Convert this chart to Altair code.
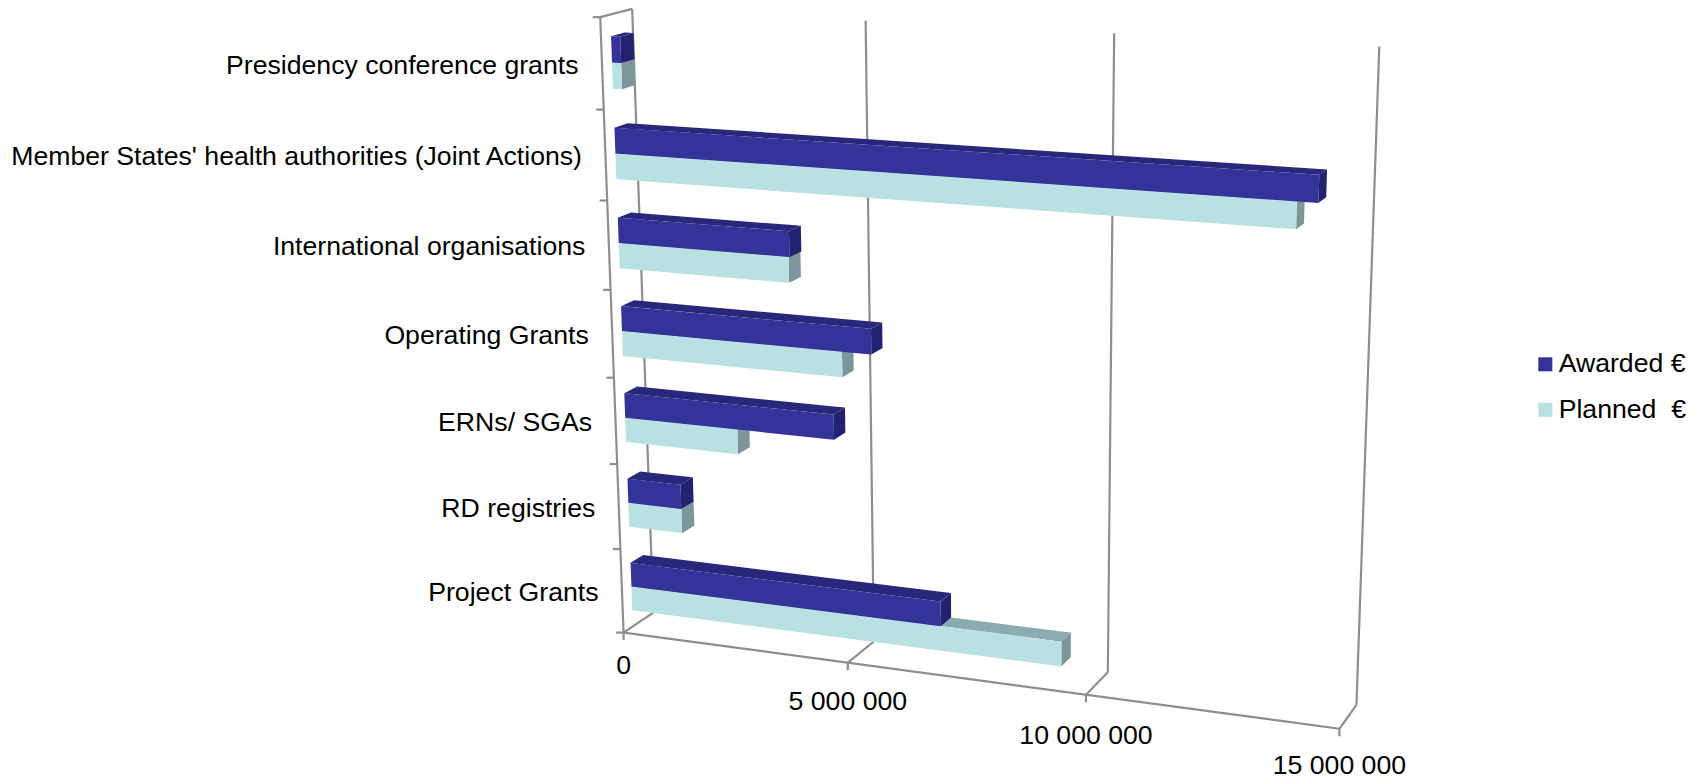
import altair as alt
import numpy as np
import pandas as pd

# ---- chart values ----
categories = ["Presidency conference grants", "Member States' health authorities (Joint Actions)",
              "International organisations", "Operating Grants", "ERNs/ SGAs", "RD registries", "Project Grants"]
awarded = [200000, 14200000, 3720000, 5420000, 4600000, 1200000, 6830000]
planned = [200000, 13800000, 3700000, 4800000, 2500000, 1200000, 9350000]
series_names = ["Awarded €", "Planned  €"]
x_ticks = [0, 5000000, 10000000, 15000000]
x_tick_labels = ["0", "5 000 000", "10 000 000", "15 000 000"]

# ---- perspective camera: box corners (value, row, depth) seen at page pixels ----
box_points = [(0, 0, 0), (0, 1, 0), (0, 2, 0), (0, 4, 0), (0, 5, 0), (0, 6, 0), (0, 7, 0),
              (5, 7, 0), (10, 7, 0), (15, 7, 0),
              (0, 7, 1), (5, 7, 1), (10, 7, 1), (15, 7, 1),
              (0, 0, 1), (5, 0, 1), (10, 0, 1), (15, 0, 1)]
page_points = [(601.7, 18), (603.3, 109.5), (605, 200.7), (614.3, 377.3), (617.3, 464), (619.5, 548.5), (624, 632.3),
               (848.3, 663.3), (1086.7, 695), (1339.3, 728.3),
               (653.3, 612.3), (874.3, 641.7), (1107.7, 672.7), (1355.7, 705),
               (632.3, 9.3), (865.7, 20), (1114.3, 32.7), (1379.3, 46.7)]

rows = []
for (a, b, c), (u, w) in zip(box_points, page_points):
    u, w = u / 1000, w / 1000
    X = [a / 15, b / 7, c, 1]
    rows.append(X + [0, 0, 0, 0] + [-u * q for q in X])
    rows.append([0, 0, 0, 0] + X + [-w * q for q in X])
P = np.linalg.svd(np.array(rows))[2][-1].reshape(3, 4)


def project(value, row, depth):
    h = P @ np.array([value / 15e6, row / 7, depth, 1.0])
    return float(h[0] / h[2] * 1000), float(h[1] / h[2] * 1000)


# ---- bar geometry inside a category band ----
BAR_TOP, BAR_MID, BAR_BOTTOM = 0.235, 0.52, 0.805
DEPTH_FRONT, DEPTH_BACK = 0.31, 0.73


def polygon_rows(points, face, **extra):
    """Express a convex polygon as upper / lower envelopes for an area mark."""
    out = []
    xs = sorted({round(p[0], 3) for p in points})
    n = len(points)
    for x in xs:
        ys = []
        for i in range(n):
            (x1, y1), (x2, y2) = points[i], points[(i + 1) % n]
            lo, hi = min(x1, x2), max(x1, x2)
            if lo - 0.002 <= x <= hi + 0.002:
                if abs(x2 - x1) < 1e-6:
                    ys += [y1, y2]
                else:
                    ys.append(y1 + (y2 - y1) * min(max((x - x1) / (x2 - x1), 0), 1))
        out.append(dict(px=x, py=min(ys), py2=max(ys), face=face, **extra))
    return out


def bar_faces(i, value, t0, t1, name, front_fill_key, top_fill, side_fill):
    a, b = i + t0, i + t1
    ftl, ftr = project(0, a, DEPTH_FRONT), project(value, a, DEPTH_FRONT)
    fbl, fbr = project(0, b, DEPTH_FRONT), project(value, b, DEPTH_FRONT)
    btl, btr = project(0, a, DEPTH_BACK), project(value, a, DEPTH_BACK)
    bbr = project(value, b, DEPTH_BACK)
    shade = polygon_rows([ftl, btl, btr, ftr], f"{name}{i}top", fill=top_fill) + \
        polygon_rows([ftr, btr, bbr, fbr], f"{name}{i}side", fill=side_fill)
    front = polygon_rows([ftl, ftr, fbr, fbl], f"{name}{i}front", series=front_fill_key)
    return shade, front


aw_shade, aw_front, pl_shade, pl_front = [], [], [], []
for i in range(len(categories)):
    s, f = bar_faces(i, awarded[i], BAR_TOP, BAR_MID, "a", series_names[0], "#28287A", "#222270")
    aw_shade += s
    aw_front += f
    s, f = bar_faces(i, planned[i], BAR_MID, BAR_BOTTOM, "p", series_names[1], "#8BABAE", "#7C9699")
    pl_shade += s
    pl_front += f

# ---- grid, axes ----
LAST = len(categories)
segments = []


def seg(p, q):
    segments.append(dict(x1=p[0], y1=p[1], x2=q[0], y2=q[1]))


seg(project(0, 0, 0), project(0, LAST, 0))
seg(project(0, 0, 0), project(0, 0, 1))
seg(project(0, LAST, 0), project(15e6, LAST, 0))
for v in x_ticks:
    seg(project(v, 0, 1), project(v, LAST, 1))
    seg(project(v, LAST, 0), project(v, LAST, 1))
    a = project(v, LAST, 0)
    seg(a, (a[0], a[1] + 7.5))
for t in range(LAST + 1):
    a = project(0, t, 0)
    seg((a[0] - 7.5, a[1]), a)

TICK_LABEL_DROP = [41.7, 47.7, 49, 45.5]
tick_text = []
for v, label, drop in zip(x_ticks, x_tick_labels, TICK_LABEL_DROP):
    a = project(v, LAST, 0)
    tick_text.append(dict(px=a[0], py=a[1] + drop, label=label))
cat_text = []
for i, c in enumerate(categories):
    a = project(0, i + 0.5, 0)
    cat_text.append(dict(px=a[0] - 23.5, py=a[1] + 10, label=c))

# ---- chart ----
FONT = "Liberation Sans"
FS = 26.65
W, H = 1686, 772
x_enc = alt.X("px:Q", scale=alt.Scale(domain=[8, 8 + W], range=[0, W], nice=False, zero=False), axis=None)
y_enc = alt.Y("py:Q", scale=alt.Scale(domain=[8, 8 + H], range=[0, H], nice=False, zero=False), axis=None)
x_raw = alt.X("x1:Q", scale=alt.Scale(domain=[8, 8 + W], range=[0, W], nice=False, zero=False), axis=None)
y_raw = alt.Y("y1:Q", scale=alt.Scale(domain=[8, 8 + H], range=[0, H], nice=False, zero=False), axis=None)
color_scale = alt.Scale(domain=series_names, range=["#333399", "#B9E1E3"])

grid = alt.Chart(pd.DataFrame(segments)).mark_rule(color="#8E8E8E", strokeWidth=2.2).encode(
    x=x_raw, y=y_raw, x2="x2:Q", y2="y2:Q")


def shade_layer(rows_):
    return alt.Chart(pd.DataFrame(rows_)).mark_area(opacity=1, interpolate="linear").encode(
        x=x_enc, y=y_enc, y2="py2:Q", detail="face:N", color=alt.Color("fill:N", scale=None))


def front_layer(rows_, legend):
    return alt.Chart(pd.DataFrame(rows_)).mark_area(opacity=1, interpolate="linear").encode(
        x=x_enc, y=y_enc, y2="py2:Q", detail="face:N",
        color=alt.Color("series:N", scale=color_scale, legend=legend))


legend = alt.Legend(orient="none", legendX=1524, legendY=343, title=None, symbolType="square", symbolSize=196,
                    symbolStrokeWidth=0, labelFont=FONT, labelFontSize=FS, labelColor="black", labelOffset=0,
                    rowPadding=18.5, labelLimit=300, padding=0,
                    labelExpr="replace(datum.label, '  ', '\u00a0\u00a0')")

tick_labels = alt.Chart(pd.DataFrame(tick_text)).mark_text(
    font=FONT, fontSize=FS, align="center", baseline="alphabetic", color="black").encode(
    x=x_enc, y=y_enc, text="label:N")
cat_labels = alt.Chart(pd.DataFrame(cat_text)).mark_text(
    font=FONT, fontSize=FS, align="right", baseline="alphabetic", color="black").encode(
    x=x_enc, y=y_enc, text="label:N")

chart = alt.layer(
    grid,
    shade_layer(pl_shade), front_layer(pl_front, legend),
    shade_layer(aw_shade), front_layer(aw_front, None),
    tick_labels, cat_labels,
).resolve_scale(color="independent").properties(
    width=W, height=H, padding=0, autosize=alt.AutoSizeParams(type="none"), background="white"
).configure_view(stroke=None)

chart.save("out.html", embed_options={"renderer": "svg", "actions": False})
